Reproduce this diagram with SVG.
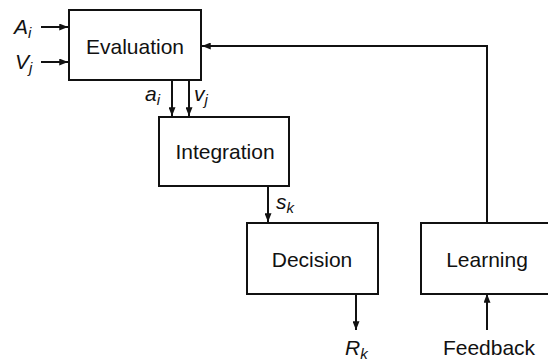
<svg xmlns="http://www.w3.org/2000/svg" width="548" height="361" viewBox="0 0 548 361">
<defs>
<marker id="ah" viewBox="0 0 10 8" refX="10" refY="4" markerWidth="10" markerHeight="7" markerUnits="userSpaceOnUse" orient="auto">
<path d="M0,0 L10,4 L0,8 Z" fill="#111"/>
</marker>
</defs>
<style>
.box{fill:#fff;stroke:#111;stroke-width:2}
.lbl{font-family:"Liberation Sans",Arial,sans-serif;font-size:21px;fill:#111;text-anchor:middle}
.var{font-family:"Liberation Sans",Arial,sans-serif;font-size:21px;font-style:italic;fill:#111}
.sub{font-size:15px}
.conn{fill:none;stroke:#111;stroke-width:2}
</style>
<rect width="548" height="361" fill="#fff"/>
<g id="connectors">
<line class="conn" x1="41" y1="27" x2="68" y2="27" marker-end="url(#ah)"/>
<line class="conn" x1="41" y1="62" x2="68" y2="62" marker-end="url(#ah)"/>
<line class="conn" x1="172" y1="80" x2="172" y2="116" marker-end="url(#ah)"/>
<line class="conn" x1="189" y1="80" x2="189" y2="116" marker-end="url(#ah)"/>
<line class="conn" x1="268" y1="186" x2="268" y2="222" marker-end="url(#ah)"/>
<line class="conn" x1="356" y1="294" x2="356" y2="330" marker-end="url(#ah)"/>
<line class="conn" x1="487" y1="330" x2="487" y2="294" marker-end="url(#ah)"/>
<polyline class="conn" points="487,222 487,46 202,46" marker-end="url(#ah)"/>
</g>
<g id="labels">
<text class="var" x="14" y="34">A<tspan class="sub" dy="4">i</tspan></text>
<text class="var" x="15" y="69">V<tspan class="sub" dy="4">j</tspan></text>
<text class="var" x="145" y="101">a<tspan class="sub" dy="4">i</tspan></text>
<text class="var" x="194" y="101">v<tspan class="sub" dy="4">j</tspan></text>
<text class="var" x="276" y="209">s<tspan class="sub" dy="4">k</tspan></text>
<text class="var" x="345" y="355">R<tspan class="sub" dy="4">k</tspan></text>
<text class="lbl" x="489" y="355">Feedback</text>
</g>
<g id="evaluation">
<rect class="box" x="69" y="10" width="132" height="70"/>
<text class="lbl" x="135" y="54">Evaluation</text>
</g>
<g id="integration">
<rect class="box" x="159" y="117" width="130" height="69"/>
<text class="lbl" x="225" y="159">Integration</text>
</g>
<g id="decision">
<rect class="box" x="247" y="223" width="131" height="71"/>
<text class="lbl" x="312" y="267">Decision</text>
</g>
<g id="learning">
<rect class="box" x="421" y="223" width="140" height="71"/>
<text class="lbl" x="487" y="267">Learning</text>
</g>
</svg>
